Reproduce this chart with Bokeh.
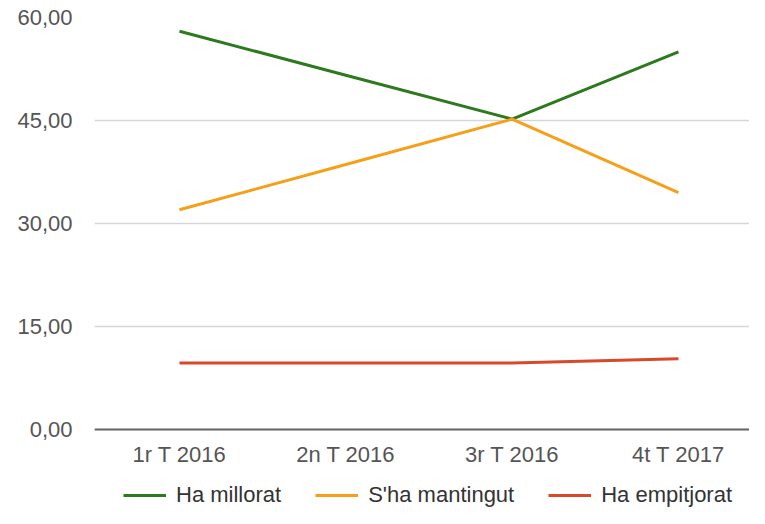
from bokeh.plotting import figure
from bokeh.models import Range1d, FixedTicker, Legend, LegendItem
from bokeh.embed import file_html
from bokeh.resources import INLINE

categories = ["1r T 2016", "2n T 2016", "3r T 2016", "4t T 2017"]
ha_millorat = [58.0, 51.6, 45.2, 55.0]
sha_mantingut = [32.0, 38.6, 45.2, 34.5]
ha_empitjorat = [9.7, 9.7, 9.7, 10.3]
y_ticks = [0, 15, 30, 45, 60]
y_labels = ["0,00", "15,00", "30,00", "45,00", "60,00"]

FONT = "Liberation Sans"
x_idx = list(range(len(categories)))

p = figure(width=749, height=508, output_backend="svg", toolbar_location=None,
           x_range=Range1d(-0.511, 3.427), y_range=Range1d(-11.5, 60),
           min_border_left=94, min_border_right=0, min_border_top=17,
           min_border_bottom=0)
p.outline_line_color = None
p.background_fill_color = "white"
p.border_fill_color = "white"

p.xgrid.grid_line_color = None
p.ygrid.grid_line_color = "#d6d6d6"
p.ygrid.grid_line_width = 1.5

p.yaxis.ticker = FixedTicker(ticks=y_ticks)
p.yaxis.major_label_overrides = {t: l for t, l in zip(y_ticks, y_labels)}
p.yaxis.axis_line_color = None
p.yaxis.major_tick_line_color = None
p.yaxis.minor_tick_line_color = None
p.yaxis.major_tick_out = 0
p.yaxis.major_label_standoff = 22
p.yaxis.major_label_text_font = FONT
p.yaxis.major_label_text_font_size = "22px"
p.yaxis.major_label_text_color = "#555555"

p.xaxis.fixed_location = 0
p.xaxis.ticker = FixedTicker(ticks=x_idx)
p.xaxis.major_label_overrides = {i: c for i, c in zip(x_idx, categories)}
p.xaxis.axis_line_color = "#666666"
p.xaxis.axis_line_width = 2
p.xaxis.major_tick_line_color = None
p.xaxis.minor_tick_line_color = None
p.xaxis.major_tick_out = 0
p.xaxis.major_label_standoff = 12
p.xaxis.major_label_text_font = FONT
p.xaxis.major_label_text_font_size = "22px"
p.xaxis.major_label_text_color = "#555555"

r1 = p.line(x_idx, ha_millorat, line_color="#2d7a1e", line_width=3)
r2 = p.line(x_idx, sha_mantingut, line_color="#f6a01a", line_width=3)
r3 = p.line(x_idx, ha_empitjorat, line_color="#d9482b", line_width=3)

legend = Legend(items=[LegendItem(label="Ha millorat", renderers=[r1]),
                       LegendItem(label="S'ha mantingut", renderers=[r2]),
                       LegendItem(label="Ha empitjorat", renderers=[r3])],
                location=(29, 0), orientation="horizontal",
                glyph_width=43, glyph_height=22, label_standoff=10, spacing=34,
                padding=0, margin=0, border_line_color=None,
                background_fill_alpha=0,
                label_text_font=FONT, label_text_font_size="22px",
                label_text_color="#333333", label_height=22)
p.add_layout(legend, "center")

open("out.html", "w").write(file_html(p, INLINE))
